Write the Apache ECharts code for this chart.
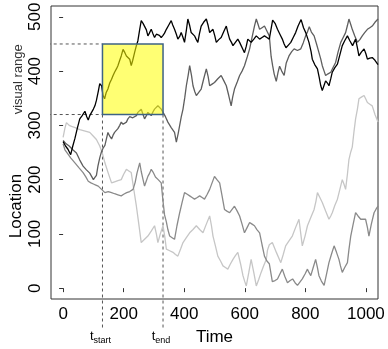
<!DOCTYPE html>
<html>
<head>
<meta charset="utf-8">
<script src="https://cdn.jsdelivr.net/npm/echarts@6/dist/echarts.min.js"></script>
<style>
  html, body { margin: 0; padding: 0; background: #fff; }
  #chart { width: 388px; height: 349px; }
</style>
</head>
<body>
<div id="chart"></div>
<script>
// Four random-walk tracks, [time, location]
const walkLight = [[0,278],[6,295],[11,305],[20,300],[28,298],[40,296],[55,292],[70,290],[88,287],[100,280],[110,274],[121,262],[130,248],[138,231],[149,212],[160,194],[170,196],[181,198],[192,200],[200,210],[209,219],[217,216],[225,213],[234,180],[242,151],[250,118],[258,84],[269,90],[280,96],[291,105],[302,115],[308,100],[313,84],[321,100],[330,115],[336,94],[341,72],[352,69],[363,66],[371,62],[379,59],[388,72],[396,84],[407,93],[418,102],[429,108],[440,115],[451,108],[462,102],[473,118],[484,133],[490,115],[495,96],[503,78],[511,59],[520,50],[528,41],[536,38],[544,35],[552,44],[561,53],[569,60],[577,66],[586,45],[594,23],[600,12],[605,4],[613,28],[621,53],[630,28],[638,4],[646,16],[654,29],[662,41],[671,53],[675,70],[681,80],[691,84],[705,65],[719,47],[727,62],[735,78],[746,87],[757,96],[768,112],[779,127],[785,100],[790,78],[799,96],[807,115],[818,130],[829,145],[835,160],[840,176],[848,167],[856,158],[867,142],[878,127],[884,133],[889,139],[897,152],[906,164],[914,182],[922,200],[928,191],[933,182],[939,210],[944,237],[950,251],[955,260],[961,290],[966,312],[972,330],[977,349],[985,352],[994,355],[1000,348],[1005,342],[1013,339],[1021,336],[1030,320],[1040,306]];

const walkMid = [[0,266],[6,255],[15,248],[25,240],[39,231],[52,222],[66,213],[75,205],[83,197],[92,194],[100,192],[108,190],[116,188],[127,182],[138,176],[149,178],[160,176],[170,174],[181,172],[192,170],[200,173],[210,176],[220,178],[231,182],[238,195],[244,212],[253,231],[258,215],[264,200],[269,188],[275,198],[280,206],[286,212],[291,219],[297,214],[305,205],[314,200],[324,194],[330,160],[335,135],[341,122],[346,108],[352,96],[360,93],[368,90],[376,115],[385,139],[393,158],[401,176],[410,173],[418,170],[426,167],[434,164],[443,167],[451,170],[459,167],[467,164],[476,173],[484,182],[492,194],[500,206],[508,200],[517,194],[525,170],[533,145],[541,142],[550,139],[558,145],[566,151],[575,142],[583,133],[591,118],[599,102],[608,112],[616,121],[624,118],[632,115],[640,108],[649,102],[657,80],[665,59],[673,50],[681,45],[691,12],[700,14],[708,17],[716,26],[724,35],[732,22],[741,10],[750,14],[758,17],[766,10],[774,5],[782,11],[790,17],[799,26],[807,35],[812,29],[818,23],[826,38],[834,53],[840,38],[845,23],[853,13],[862,5],[870,26],[878,47],[886,62],[895,78],[903,66],[911,53],[916,41],[922,29],[930,38],[939,47],[944,71],[950,96],[958,118],[966,139],[974,133],[983,127],[991,127],[999,127],[1005,112],[1010,96],[1018,118],[1027,139],[1033,145],[1040,151]];

const walkDark = [[0,272],[10,266],[20,262],[32,255],[44,249],[55,236],[66,225],[77,218],[88,212],[95,205],[100,200],[105,204],[110,208],[115,225],[121,240],[127,252],[132,258],[138,263],[143,275],[148,287],[154,280],[160,275],[165,282],[170,287],[176,290],[181,294],[187,300],[192,306],[198,302],[203,300],[209,306],[214,312],[220,316],[225,318],[230,314],[236,312],[242,318],[247,324],[253,327],[258,330],[264,320],[269,312],[275,318],[280,324],[286,321],[291,318],[297,325],[302,330],[308,333],[313,336],[318,333],[324,330],[330,324],[338,316],[346,306],[357,296],[368,287],[374,269],[380,285],[385,300],[390,315],[396,330],[402,352],[407,373],[413,392],[418,410],[424,392],[429,373],[435,362],[440,355],[448,361],[456,367],[464,385],[473,404],[479,390],[484,373],[492,376],[500,379],[511,386],[522,392],[531,382],[539,373],[547,355],[555,336],[560,352],[566,367],[575,380],[583,392],[591,400],[599,410],[608,426],[616,441],[624,462],[632,483],[638,496],[644,486],[649,477],[657,480],[665,483],[673,474],[681,465],[687,427],[692,410],[697,395],[704,381],[710,398],[715,409],[722,400],[730,392],[737,415],[746,428],[755,436],[763,441],[774,438],[785,441],[793,452],[801,465],[807,472],[813,482],[820,472],[829,465],[837,450],[845,434],[851,422],[856,410],[862,400],[867,392],[875,395],[884,398],[892,407],[900,416],[908,435],[917,453],[925,462],[933,471],[939,484],[944,496],[950,486],[955,477],[963,465],[972,453],[980,458],[988,465],[996,471],[1005,477],[1013,480],[1021,483],[1030,490],[1040,496]];

const walkBlack = [[0,270],[8,262],[16,256],[25,246],[32,262],[39,276],[47,295],[55,312],[63,318],[72,326],[78,316],[83,310],[88,318],[94,318],[100,330],[105,336],[110,346],[116,362],[121,377],[127,373],[132,355],[137,349],[142,360],[148,367],[154,378],[160,385],[165,392],[170,398],[176,404],[181,410],[187,420],[192,428],[198,440],[204,434],[209,428],[215,425],[220,422],[225,410],[230,420],[236,434],[242,447],[247,456],[253,477],[258,493],[264,488],[269,490],[275,476],[280,465],[285,470],[291,477],[296,470],[302,462],[308,468],[313,471],[318,466],[324,462],[330,466],[335,470],[341,477],[349,485],[357,493],[362,485],[368,477],[374,468],[379,459],[385,464],[390,471],[396,462],[401,453],[407,475],[412,496],[418,484],[423,471],[429,468],[434,465],[440,458],[445,453],[450,468],[456,483],[464,490],[473,496],[479,484],[484,471],[490,474],[495,477],[501,465],[506,453],[514,458],[522,462],[530,472],[539,483],[544,471],[550,459],[556,453],[561,447],[569,453],[577,459],[583,453],[588,447],[594,440],[599,434],[605,446],[610,459],[616,456],[621,453],[630,459],[638,465],[644,462],[649,459],[657,462],[665,465],[673,462],[681,459],[692,494],[700,488],[708,477],[716,468],[724,459],[730,450],[736,443],[744,448],[752,453],[760,462],[768,471],[776,483],[786,495],[794,480],[802,470],[812,453],[819,436],[823,422],[831,412],[840,404],[846,388],[851,373],[856,364],[862,374],[867,382],[873,378],[878,373],[884,386],[889,398],[897,406],[906,413],[914,430],[922,447],[930,456],[939,465],[947,456],[956,447],[961,453],[966,459],[972,443],[977,428],[985,435],[994,441],[1000,432],[1005,422],[1013,424],[1021,425],[1030,420],[1040,412]];

// axis ranges and ticks (R style: 4% padding around the data)
const xRange = [-40, 1040];
const yRange = [-20, 520];
const xTicks = [0, 200, 400, 600, 800, 1000];
const yTicks = [0, 100, 200, 300, 400, 500];

// highlighted window: time span and visual range
const tWindow = [130, 330];
const visualRange = [320, 450];
const guideLeft = -150;   // horizontal guides run out past the y axis
const guideBottom = -75;  // vertical guides run down past the x axis

const FONT = "Liberation Sans, Arial, sans-serif";

const chart = echarts.init(document.getElementById("chart"));

function walkSeries(data, color) {
  return {
    type: "line",
    data: data,
    showSymbol: false,
    animation: false,
    lineStyle: { color: color, width: 1.3 },
    z: 3,
  };
}

function guide(points) {
  return {
    type: "line",
    data: points,
    showSymbol: false,
    clip: false,
    animation: false,
    lineStyle: { color: "#555", width: 1, type: [3, 3] },
    z: 2,
  };
}

chart.setOption({
  animation: false,
  grid: {
    left: 51, right: 10, top: 6, bottom: 50,
    show: true, borderColor: "#333", borderWidth: 1,
    outerBoundsMode: "none",
  },
  xAxis: {
    type: "value",
    min: xRange[0], max: xRange[1],
    axisLine: { show: false },
    splitLine: { show: false },
    axisTick: { show: true, customValues: xTicks, length: 4, lineStyle: { color: "#333" } },
    axisLabel: {
      customValues: xTicks, formatter: (v) => String(v),
      color: "#000", fontSize: 17, fontFamily: FONT, margin: 7,
    },
    name: "Time",
    nameLocation: "middle",
    nameGap: 30,
    nameTextStyle: { color: "#000", fontSize: 17, fontFamily: FONT },
  },
  yAxis: {
    type: "value",
    min: yRange[0], max: yRange[1],
    axisLine: { show: false },
    splitLine: { show: false },
    axisTick: { show: true, customValues: yTicks, length: 4, lineStyle: { color: "#333" } },
    axisLabel: {
      customValues: yTicks, formatter: (v) => String(v), rotate: 90,
      color: "#000", fontSize: 17, fontFamily: FONT, margin: 7,
    },
  },
  series: [
    guide([[guideLeft, visualRange[1]], [tWindow[0], visualRange[1]]]),
    guide([[guideLeft, visualRange[0]], [tWindow[0], visualRange[0]]]),
    guide([[tWindow[0], visualRange[0]], [tWindow[0], guideBottom]]),
    guide([[tWindow[1], visualRange[0]], [tWindow[1], guideBottom]]),
    walkSeries(walkLight, "#c6c6c6"),
    walkSeries(walkMid, "#8a8a8a"),
    walkSeries(walkDark, "#5e5e5e"),
    walkSeries(walkBlack, "#000"),
    {
      // yellow window drawn over the tracks, semi transparent
      type: "custom",
      data: [[tWindow[0], visualRange[0], tWindow[1], visualRange[1]]],
      z: 10,
      silent: true,
      animation: false,
      renderItem: (params, api) => {
        const lo = api.coord([api.value(0), api.value(1)]);
        const hi = api.coord([api.value(2), api.value(3)]);
        return {
          type: "rect",
          shape: { x: lo[0], y: hi[1], width: hi[0] - lo[0], height: lo[1] - hi[1] },
          style: { fill: "rgba(255,255,0,0.55)", stroke: "#3e6384", lineWidth: 1.5 },
        };
      },
    },
  ],
});

// text annotations placed through the chart's own scales
const pStart = chart.convertToPixel({ gridIndex: 0 }, [tWindow[0], guideBottom]);
const pEnd = chart.convertToPixel({ gridIndex: 0 }, [tWindow[1], guideBottom]);
const pRange = chart.convertToPixel({ gridIndex: 0 }, [0, (visualRange[0] + visualRange[1]) / 2]);

function tLabel(p, sub) {
  return {
    type: "text",
    x: p[0] - 2, y: p[1] + 1,
    style: {
      text: "{t|t}{s|" + sub + "}",
      align: "center", verticalAlign: "top",
      fontFamily: FONT,
      rich: {
        t: { fontSize: 13, fontFamily: FONT, fill: "#000", lineHeight: 14 },
        s: { fontSize: 9, fontFamily: FONT, fill: "#000", lineHeight: 14, padding: [7, 0, 0, 0] },
      },
    },
  };
}

chart.setOption({
  graphic: [
    tLabel(pStart, "start"),
    tLabel(pEnd, "end"),
    {
      type: "text", x: 16, y: 206, rotation: Math.PI / 2,
      style: { text: "Location", fontSize: 17, fontFamily: FONT, fill: "#000", align: "center", verticalAlign: "middle" },
    },
    {
      type: "text", x: 18, y: pRange[1], rotation: Math.PI / 2,
      style: { text: "visual range", fontSize: 13, fontFamily: FONT, fill: "#333", align: "center", verticalAlign: "middle" },
    },
  ],
});
</script>
</body>
</html>
